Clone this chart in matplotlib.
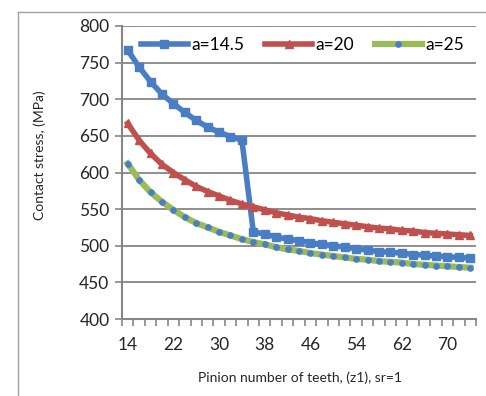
import matplotlib
matplotlib.use("Agg")
import matplotlib.pyplot as plt
from matplotlib.lines import Line2D
import numpy as np

teeth = list(range(14, 76, 2))
a145 = [767, 744, 724, 707, 694, 682, 671, 662, 655, 649, 644,
        519, 516, 512, 509, 507, 504, 502, 500, 498, 496, 494, 492, 491,
        490, 488, 487, 486, 485, 484, 483]
a20 = [667, 644, 626, 611, 600, 590, 581, 574, 568, 562, 557,
       553, 549, 545, 542, 539, 537, 534, 532, 530, 528, 526, 524, 523,
       521, 520, 518, 517, 516, 515, 514]
a25 = [612, 590, 573, 560, 549, 539, 531, 525, 519, 514, 509,
       505, 502, 498, 495, 493, 490, 488, 486, 484, 482, 481, 479, 478,
       477, 475, 474, 473, 472, 471, 470]
labels = ["a=14.5", "a=20", "a=25"]
yticks = [400, 450, 500, 550, 600, 650, 700, 750, 800]

plt.rcParams['font.family'] = ['Lato', 'DejaVu Sans']

fig = plt.figure(figsize=(4.86, 3.96), dpi=100)
ax = fig.add_axes([122/486, 77/396, 354/486, 293/396])

x = np.arange(len(teeth))
grid_c = '#868686'
ax.plot(x, a145, color='#4A7EC4', lw=4, marker='s', ms=5.5, mec='#4A7EC4', label=labels[0], zorder=3)
ax.plot(x, a20, color='#C0504D', lw=4, marker='^', ms=5.5, mec='#C0504D', label=labels[1], zorder=3)
ax.plot(x, a25, color='#9BBB59', lw=4.5, marker='o', ms=3.8, mfc='#4A7EC4', mec='#4A7EC4', label=labels[2], zorder=4)

ax.set_xlim(-0.5, len(teeth) - 0.5)
ax.set_ylim(400, 800)
ax.set_yticks(yticks)
ax.set_yticklabels([str(v) for v in yticks], fontsize=12.5, color='#262626')
ax.set_xticks(x[::4])
ax.set_xticklabels([str(t) for t in teeth[::4]], fontsize=12.5, color='#262626')
ax.set_xticks(np.arange(-0.5, len(teeth), 1), minor=True)
ax.tick_params(axis='x', which='major', length=0, pad=13)
ax.tick_params(axis='x', which='minor', length=5, width=1.2, color=grid_c, direction='out')
ax.tick_params(axis='y', which='major', length=5, width=1.2, color=grid_c, direction='out', pad=4)
ax.grid(axis='y', color=grid_c, lw=1.3, zorder=0)
ax.set_axisbelow(True)
for s in ['top', 'right']:
    ax.spines[s].set_visible(False)
for s in ['left', 'bottom']:
    ax.spines[s].set_color(grid_c)
    ax.spines[s].set_linewidth(1.5)

ax.set_ylabel("Contact stress, (MPa)", fontsize=10, color='#262626')
ax.yaxis.set_label_coords(-0.215, 0.56)
ax.set_xlabel("Pinion number of teeth, (z1), sr=1", fontsize=10, color='#262626')
ax.xaxis.set_label_coords(0.503, -0.18)

leg = ax.legend(loc='upper center', bbox_to_anchor=(0.51, 1.0), ncol=3, frameon=False,
                fontsize=12.5, handlelength=2.7, handletextpad=0.2, columnspacing=1.2,
                borderaxespad=0.25, markerscale=1.0, numpoints=1)

fig.add_artist(Line2D([18/486, 1], [1 - 12/396, 1 - 12/396], color='#A0A0A0', lw=1))
fig.add_artist(Line2D([18/486, 18/486], [0, 1 - 12/396], color='#A0A0A0', lw=1))

fig.savefig("out.png", dpi=100, facecolor='white')
